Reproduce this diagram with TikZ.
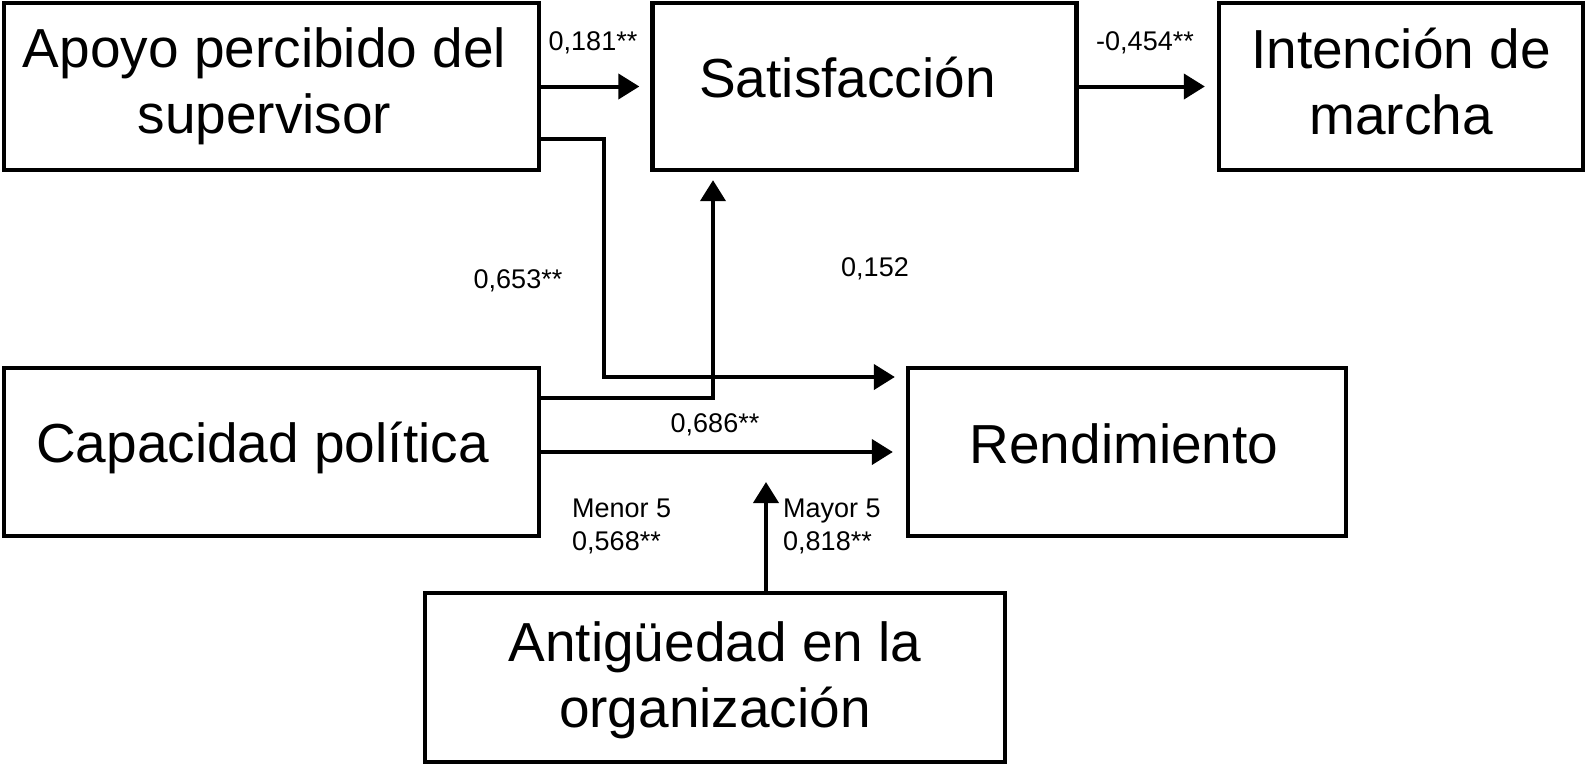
\documentclass[tikz,border=0pt]{standalone}
\usepackage{fontspec}
\setmainfont{Liberation Sans}
\usetikzlibrary{arrows.meta}
\begin{document}
\begin{tikzpicture}[x=1pt,y=-1pt,
  box/.style={draw, line width=4.3pt, rectangle, inner sep=0pt},
  txt/.style={inner sep=0pt, align=center, font=\fontsize{55}{66}\selectfont},
  lab/.style={font=\fontsize{27}{33}\selectfont, inner sep=0pt},
  conn/.style={line width=4pt, -{Triangle[length=21pt,width=25pt]}}]
\useasboundingbox (0,0) rectangle (1587,766);
% boxes
\node[box, minimum width=535pt, minimum height=167pt,
  label={[txt, xshift=-7pt]center:Apoyo percibido del\\supervisor}] (apoyo) at (271.5,86.5) {};
\node[box, minimum width=424pt, minimum height=167pt,
  label={[txt, xshift=-17pt, yshift=9pt]center:Satisfacción}] (satis) at (864.5,86.5) {};
\node[box, minimum width=364pt, minimum height=167pt,
  label={[txt, yshift=5pt]center:Intención de\\marcha}] (inten) at (1401,86.5) {};
\node[box, minimum width=535pt, minimum height=168pt,
  label={[txt, xshift=-9pt, yshift=4pt]center:Capacidad política}] (capac) at (271.5,452) {};
\node[box, minimum width=438pt, minimum height=168pt,
  label={[txt, xshift=-3pt, yshift=8pt]center:Rendimiento}] (rend) at (1127,452) {};
\node[box, minimum width=580pt, minimum height=169pt,
  label={[txt, yshift=-3pt]center:Antigüedad en la\\organización}] (antig) at (715,677.5) {};
% connectors
\draw[conn, shorten >=11pt] (apoyo.east) -- (satis.west);
\draw[conn, shorten >=12pt] (satis.east) -- (inten.west);
\draw[conn, shorten >=11pt] ([yshift=-52.5pt]apoyo.east) -- ++(63,0) |- ([yshift=75pt]rend.west);
\draw[conn, shorten >=8pt] ([yshift=54pt]capac.east) -| ([xshift=-151.5pt]satis.south);
\draw[conn, shorten >=13pt] (capac.east) -- (rend.west);
\coordinate (mod) at (766,482);
\draw[conn] (antig.north -| mod) -- (mod);
% labels
\node[lab] (l1) at (593,43) {0,181**};
\node[lab] (l2) at (1145,43) {-0,454**};
\node[lab] (l3) at (518,281) {0,653**};
\node[lab] (l4) at (875,269) {0,152};
\node[lab] (l5) at (715,425) {0,686**};
\node[lab, anchor=west, align=left] (l6) at (572,526) {Menor 5\\0,568**};
\node[lab, anchor=west, align=left] (l7) at (783,526) {Mayor 5\\0,818**};
\end{tikzpicture}
\end{document}
